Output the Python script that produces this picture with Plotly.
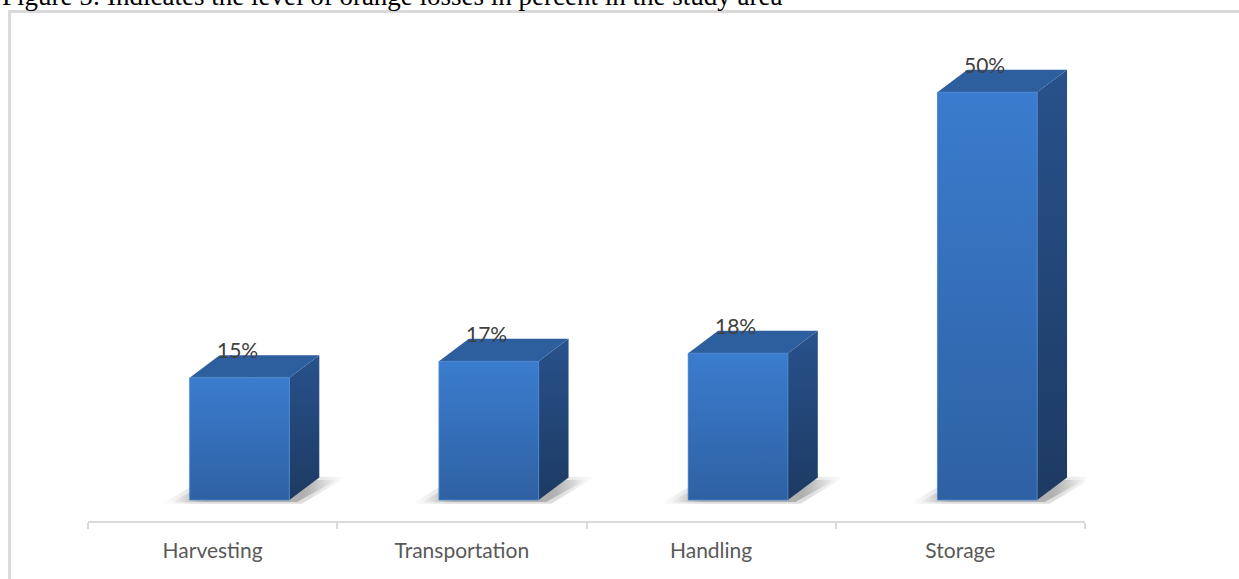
import plotly.graph_objects as go

# ---- data ----
categories = ["Harvesting", "Transportation", "Handling", "Storage"]
loss_pct = [15, 17, 18, 50]
label_text = ["15%", "17%", "18%", "50%"]
title_text = "Figure 5: Indicates the level of orange losses in percent in the study area"

# ---- style constants (3D look) ----
FRONT_W = 0.40       # front face width in category units
FRONT_SHIFT = 0.108  # front face centre offset from category centre
DEPTH_X = 0.12       # depth in x (category units)
DEPTH_Y = 2.76       # depth in y (percent units)

FONT = "Lato"
idx = list(range(len(categories)))

fig = go.Figure()

# base bar trace (front faces)
fig.add_trace(go.Bar(
    x=idx, y=loss_pct, width=FRONT_W, offset=FRONT_SHIFT - FRONT_W / 2,
    marker=dict(color="#3470bc", line=dict(width=0)),
    hoverinfo="skip", showlegend=False,
))

def poly(xs, ys, **kw):
    fig.add_trace(go.Scatter(
        x=xs + [xs[0]], y=ys + [ys[0]], mode="lines", fill="toself",
        hoverinfo="skip", showlegend=False, **kw))

def shadow_scale(a):
    return [[0, "rgba(70,70,70,0)"], [0.2, f"rgba(70,70,70,{a})"],
            [0.8, f"rgba(70,70,70,{a})"], [1, "rgba(70,70,70,0)"]]

for i, v in zip(idx, loss_pct):
    xl = i + FRONT_SHIFT - FRONT_W / 2
    xr = xl + FRONT_W
    # soft floor shadow (two layers to imitate blur)
    poly([xl - 0.11, xr + 0.05, xr + DEPTH_X + 0.11, xl + DEPTH_X - 0.05],
         [-0.45, -0.45, DEPTH_Y + 0.1, DEPTH_Y + 0.1],
         line=dict(width=0), fillgradient=dict(type="horizontal", colorscale=shadow_scale(0.18)))
    poly([xl - 0.07, xr + 0.03, xr + DEPTH_X + 0.07, xl + DEPTH_X - 0.03],
         [-0.25, -0.25, DEPTH_Y - 0.3, DEPTH_Y - 0.3],
         line=dict(width=0), fillgradient=dict(type="horizontal", colorscale=shadow_scale(0.3)))
    # side face
    poly([xr, xr + DEPTH_X, xr + DEPTH_X, xr], [0, DEPTH_Y, v + DEPTH_Y, v],
         line=dict(width=0),
         fillgradient=dict(type="vertical", colorscale=[[0, "#1d3a62"], [1, "#28528c"]]))
    # top face
    poly([xl, xr, xr + DEPTH_X, xl + DEPTH_X], [v, v, v + DEPTH_Y, v + DEPTH_Y],
         line=dict(width=0), fillcolor="#2d5e9e")
    # front face with gradient
    poly([xl, xr, xr, xl], [0, 0, v, v],
         line=dict(width=1, color="rgba(80,140,215,0.8)"),
         fillgradient=dict(type="vertical", colorscale=[[0, "#2e61a3"], [1, "#3b7cce"]]))

# data labels
for i, v, t in zip(idx, loss_pct, label_text):
    fig.add_annotation(x=i + FRONT_SHIFT - 0.01, y=v, yshift=28, text=t,
                       showarrow=False, xanchor="center", yanchor="middle",
                       font=dict(family=FONT, size=21, color="#404040"))

# caption (cut at top, as in the source image)
fig.add_annotation(xref="paper", yref="paper", x=-0.0883, y=1.091,
                   xanchor="left", yanchor="middle", text=title_text, showarrow=False,
                   font=dict(family="Liberation Serif", size=27, color="#000000"))

# frame
fig.add_shape(type="rect", xref="paper", yref="paper",
              x0=-0.0787, x1=1.25, y0=-0.3, y1=1.0593,
              line=dict(color="#d9d9d9", width=3), fillcolor="rgba(0,0,0,0)", layer="below")

fig.update_layout(
    width=1239, height=579,
    margin=dict(l=88, r=154, t=40, b=58),
    paper_bgcolor="white", plot_bgcolor="white",
    showlegend=False,
    xaxis=dict(range=[-0.5, 3.5], tickvals=idx, ticktext=categories, ticks="",
               showline=True, linecolor="#d9d9d9", linewidth=2,
               showgrid=False, zeroline=False, fixedrange=True,
               tickfont=dict(family=FONT, size=21, color="#595959"),
               ticklabelstandoff=10,
               minor=dict(tickvals=[-0.5, 0.5, 1.5, 2.5, 3.5], ticks="outside",
                          ticklen=6, tickwidth=2, tickcolor="#d9d9d9", showgrid=False)),
    yaxis=dict(range=[-2.57, 56.4], visible=False, fixedrange=True),
)

fig.write_html("out.html")
